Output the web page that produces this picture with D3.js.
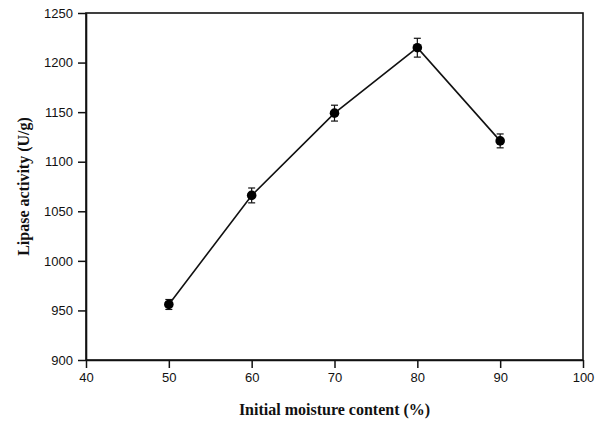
<!DOCTYPE html>
<html>
<head>
<meta charset="utf-8">
<script src="https://cdn.jsdelivr.net/npm/d3@7"></script>
<style>
  body { margin: 0; background: #fff; }
  .tick text { font-family: "Liberation Sans", Arial, sans-serif; font-size: 13px; fill: #111; }
</style>
</head>
<body>
<script>
var moisture = [50, 60, 70, 80, 90];
var activity = [956, 1066, 1149, 1215, 1121];
var errors = [5, 7.5, 8, 9.5, 7];
var xTicks = [40, 50, 60, 70, 80, 90, 100];
var yTicks = [900, 950, 1000, 1050, 1100, 1150, 1200, 1250];

var width = 601, height = 421;
var margin = {top: 13, right: 18, bottom: 61, left: 86};

var svg = d3.select("body").append("svg")
    .attr("width", width)
    .attr("height", height);

var x = d3.scaleLinear().domain([40, 100]).range([margin.left, width - margin.right]);
var y = d3.scaleLinear().domain([900, 1250]).range([height - margin.bottom, margin.top]);

var data = moisture.map(function(m, i) { return {x: m, y: activity[i], e: errors[i]}; });

// frame
svg.append("rect")
    .attr("x", x(40))
    .attr("y", y(1250))
    .attr("width", x(100) - x(40))
    .attr("height", y(900) - y(1250))
    .attr("fill", "none")
    .attr("stroke", "#111")
    .attr("stroke-width", 1.6);

var xAxis = svg.append("g")
    .attr("transform", "translate(0," + y(900) + ")")
    .call(d3.axisBottom(x).tickValues(xTicks).tickFormat(d3.format("d"))
      .tickSize(8).tickPadding(5).tickSizeOuter(0));

var yAxis = svg.append("g")
    .attr("transform", "translate(" + x(40) + ",0)")
    .call(d3.axisLeft(y).tickValues(yTicks).tickFormat(d3.format("d"))
      .tickSize(8).tickPadding(5).tickSizeOuter(0));

[xAxis, yAxis].forEach(function(a) {
  a.select(".domain").attr("stroke", "#111").attr("stroke-width", 1.6);
  a.selectAll(".tick line").attr("stroke", "#111").attr("stroke-width", 1.5);
});

// line
svg.append("path")
    .datum(data)
    .attr("fill", "none")
    .attr("stroke", "#111")
    .attr("stroke-width", 1.6)
    .attr("d", d3.line().x(function(d) { return x(d.x); }).y(function(d) { return y(d.y); }));

// error bars
var eb = svg.selectAll("g.err").data(data).enter().append("g").attr("class", "err")
    .attr("stroke", "#111").attr("stroke-width", 1.2);
eb.append("line")
    .attr("x1", function(d) { return x(d.x); })
    .attr("x2", function(d) { return x(d.x); })
    .attr("y1", function(d) { return y(d.y + d.e); })
    .attr("y2", function(d) { return y(d.y - d.e); });
eb.append("line")
    .attr("x1", function(d) { return x(d.x) - 3.5; })
    .attr("x2", function(d) { return x(d.x) + 3.5; })
    .attr("y1", function(d) { return y(d.y + d.e); })
    .attr("y2", function(d) { return y(d.y + d.e); });
eb.append("line")
    .attr("x1", function(d) { return x(d.x) - 3.5; })
    .attr("x2", function(d) { return x(d.x) + 3.5; })
    .attr("y1", function(d) { return y(d.y - d.e); })
    .attr("y2", function(d) { return y(d.y - d.e); });

// markers
svg.selectAll("circle.pt").data(data).enter().append("circle")
    .attr("class", "pt")
    .attr("cx", function(d) { return x(d.x); })
    .attr("cy", function(d) { return y(d.y); })
    .attr("r", 4.8)
    .attr("fill", "#000");

// axis titles
svg.append("text")
    .attr("x", (x(40) + x(100)) / 2)
    .attr("y", 415)
    .attr("text-anchor", "middle")
    .attr("font-family", "'Liberation Serif', 'Times New Roman', serif")
    .attr("font-weight", "bold")
    .attr("font-size", "16px")
    .attr("fill", "#111")
    .text("Initial moisture content (%)");

svg.append("text")
    .attr("transform", "translate(29," + (y(900) + y(1250)) / 2 + ") rotate(-90)")
    .attr("text-anchor", "middle")
    .attr("font-family", "'Liberation Serif', 'Times New Roman', serif")
    .attr("font-weight", "bold")
    .attr("font-size", "16px")
    .attr("fill", "#111")
    .text("Lipase activity (U/g)");
</script>
</body>
</html>
